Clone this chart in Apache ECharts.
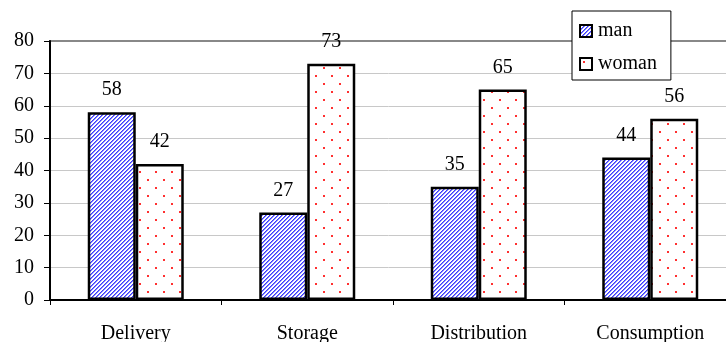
<!DOCTYPE html>
<html>
<head>
<meta charset="utf-8">
<script src="https://cdn.jsdelivr.net/npm/echarts@6/dist/echarts.min.js"></script>
<style>
html,body{margin:0;padding:0;background:#fff;}
#c{width:726px;height:342px;}
</style>
</head>
<body>
<div id="c"></div>
<script>
const categories = ['Delivery', 'Storage', 'Distribution', 'Consumption'];
const manValues = [58, 27, 35, 44];
const womanValues = [42, 73, 65, 56];
const seriesNames = ['man', 'woman'];
const yTicks = [0, 10, 20, 30, 40, 50, 60, 70, 80];

function stripePattern() {
  const s = 8;
  const cv = document.createElement('canvas');
  cv.width = s; cv.height = s;
  const ctx = cv.getContext('2d');
  const img = ctx.createImageData(s, s);
  for (let y = 0; y < s; y++) {
    for (let x = 0; x < s; x++) {
      const i = (y * s + x) * 4;
      const m = (x + y) % 4;
      let r = 255, g = 255, b = 255;
      if (m === 0) { r = 60; g = 60; b = 255; }
      else if (m === 1) { r = 130; g = 130; b = 255; }
      img.data[i] = r; img.data[i + 1] = g; img.data[i + 2] = b; img.data[i + 3] = 255;
    }
  }
  ctx.putImageData(img, 0, 0);
  return { image: cv, repeat: 'repeat' };
}
function dotPattern() {
  const s = 16;
  const cv = document.createElement('canvas');
  cv.width = s; cv.height = s;
  const ctx = cv.getContext('2d');
  ctx.fillStyle = '#ffffff';
  ctx.fillRect(0, 0, s, s);
  ctx.fillStyle = '#ff3030';
  ctx.fillRect(3, 3, 2, 2);
  ctx.fillRect(11, 11, 2, 2);
  return { image: cv, repeat: 'repeat' };
}

const font = 'Liberation Serif';
const chart = echarts.init(document.getElementById('c'), null, { renderer: 'canvas' });
const labelCfg = { show: true, position: 'top', distance: 12, color: '#000', fontFamily: font, fontSize: 20 };
chart.setOption({
  animation: false,
  backgroundColor: '#fff',
  grid: { left: 50, width: 686, top: 41, bottom: 42, outerBoundsMode: 'none', containLabel: false, show: true, borderColor: '#888', borderWidth: 2, backgroundColor: 'transparent' },
  legend: {
    data: seriesNames,
    orient: 'vertical',
    left: 572, top: 11,
    padding: [10, 14, 6, 7],
    itemGap: 13,
    itemWidth: 12, itemHeight: 12,
    icon: 'rect',
    backgroundColor: '#fff',
    borderColor: '#000',
    borderWidth: 1,
    textStyle: { fontFamily: font, fontSize: 20, color: '#000', padding: [0, 0, 0, 1] }
  },
  xAxis: {
    type: 'category',
    data: categories,
    axisLine: { lineStyle: { color: '#000', width: 2 } },
    axisTick: { show: true, length: 5, lineStyle: { color: '#000', width: 1 }, alignWithLabel: false },
    axisLabel: { color: '#000', fontFamily: font, fontSize: 20, margin: 24 },
    splitLine: { show: false }
  },
  yAxis: {
    type: 'value',
    min: yTicks[0], max: yTicks[yTicks.length - 1], interval: 10,
    axisLine: { show: true, lineStyle: { color: '#000', width: 2 } },
    axisTick: { show: true, length: 6, lineStyle: { color: '#000', width: 1 } },
    axisLabel: { color: '#000', fontFamily: font, fontSize: 20, margin: 16 },
    splitLine: { show: true, lineStyle: { color: ['#c8c8c8', '#c8c8c8', '#c8c8c8', '#c8c8c8', '#c8c8c8', '#c8c8c8', '#c8c8c8', '#c8c8c8', '#888'], width: 1 } }
  },
  series: [
    {
      name: seriesNames[0], type: 'bar', data: manValues,
      barWidth: 48, barGap: '0%',
      itemStyle: { color: stripePattern(), borderColor: '#000', borderWidth: 2.5 },
      label: labelCfg
    },
    {
      name: seriesNames[1], type: 'bar', data: womanValues,
      barWidth: 48, barGap: '0%',
      itemStyle: { color: dotPattern(), borderColor: '#000', borderWidth: 2.5 },
      label: labelCfg
    }
  ]
});
</script>
</body>
</html>
